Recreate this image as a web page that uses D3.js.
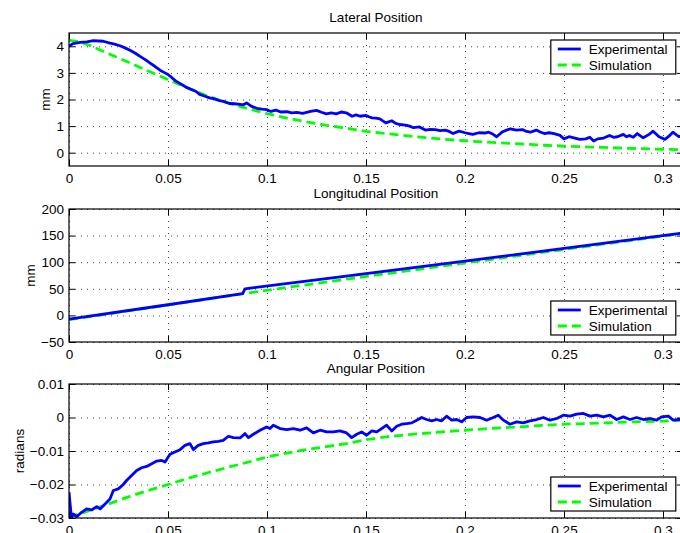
<!DOCTYPE html>
<html>
<head>
<meta charset="utf-8">
<script src="https://cdn.jsdelivr.net/npm/d3@7"></script>
<style>
body { margin: 0; background: #fff; }
svg { display: block; font-family: "Liberation Sans", Arial, Helvetica, sans-serif; font-size: 13.5px; }
.grid line { stroke: #444; stroke-width: 1; stroke-dasharray: 1,5; }
.grid .domain { display: none; }
.ax line { stroke: #000; stroke-width: 1; }
.ax text { fill: #000; font-size: 13.5px; font-family: "Liberation Sans", Arial, sans-serif; }
.box { fill: none; stroke: #000; stroke-width: 1.2; }
.exp { fill: none; stroke: #0000ff; stroke-width: 2.8; stroke-linejoin: round; }
.sim { fill: none; stroke: #00ff00; stroke-width: 2.8; stroke-dasharray: 9,5; }
.legend rect { fill: #fff; stroke: #000; stroke-width: 1.2; }
</style>
</head>
<body>
<div id="chart"></div>
<script>
// x axis (time, s) shared by all three panels
var xTicks = [0, 0.05, 0.1, 0.15, 0.2, 0.25, 0.3];
var xMax   = 0.31;
var seriesNames = ['Experimental', 'Simulation'];

// ---- Lateral position (mm)
var latExpT = [0, 0.002, 0.0056, 0.009, 0.0123, 0.015, 0.0173, 0.0207, 0.023, 0.0257, 0.028, 0.0308,
	0.0335, 0.0359, 0.0385, 0.041, 0.0435, 0.046, 0.048, 0.05, 0.052, 0.054, 0.0565, 0.059, 0.061, 0.0628,
	0.064, 0.066, 0.068, 0.071, 0.0735, 0.076, 0.078, 0.081, 0.0835, 0.0864, 0.088, 0.0897, 0.092, 0.0948,
	0.0975, 0.0998, 0.102, 0.1045, 0.107, 0.11, 0.1125, 0.115, 0.118, 0.122, 0.125, 0.1275, 0.13, 0.1325,
	0.135, 0.1375, 0.14, 0.143, 0.145, 0.147, 0.15, 0.1515, 0.153, 0.155, 0.157, 0.16, 0.163, 0.165, 0.167,
	0.17, 0.172, 0.174, 0.177, 0.18, 0.1825, 0.185, 0.1875, 0.19, 0.192, 0.194, 0.197, 0.2, 0.202, 0.204,
	0.207, 0.21, 0.212, 0.214, 0.216, 0.219, 0.221, 0.223, 0.226, 0.229, 0.231, 0.233, 0.236, 0.238, 0.24,
	0.2425, 0.245, 0.248, 0.25, 0.2525, 0.255, 0.258, 0.261, 0.263, 0.265, 0.267, 0.27, 0.273, 0.275, 0.277,
	0.28, 0.2815, 0.283, 0.285, 0.287, 0.29, 0.293, 0.295, 0.298, 0.301, 0.303, 0.305, 0.308, 0.31];
var latExp = [4.0, 4.1, 4.15, 4.17, 4.21, 4.2, 4.19, 4.12, 4.08, 4.02, 3.95, 3.85,
	3.74, 3.62, 3.5, 3.37, 3.24, 3.1, 3.02, 2.94, 2.82, 2.69, 2.58, 2.47, 2.4, 2.35,
	2.31, 2.19, 2.14, 2.06, 2.02, 1.96, 1.93, 1.85, 1.84, 1.82, 1.8, 1.87, 1.75, 1.67,
	1.64, 1.62, 1.55, 1.6, 1.53, 1.54, 1.5, 1.52, 1.48, 1.55, 1.59, 1.52, 1.46, 1.5,
	1.46, 1.53, 1.5, 1.37, 1.42, 1.37, 1.4, 1.35, 1.31, 1.3, 1.27, 1.12, 1.2, 1.1, 1.06,
	1.04, 1.0, 0.94, 0.97, 0.85, 0.88, 0.87, 0.83, 0.85, 0.8, 0.72, 0.81, 0.75, 0.72, 0.69,
	0.75, 0.74, 0.77, 0.7, 0.6, 0.79, 0.85, 0.9, 0.85, 0.87, 0.8, 0.77, 0.85, 0.78, 0.72,
	0.75, 0.72, 0.65, 0.52, 0.6, 0.56, 0.5, 0.52, 0.58, 0.44, 0.52, 0.55, 0.65, 0.58, 0.6,
	0.69, 0.6, 0.65, 0.58, 0.72, 0.56, 0.69, 0.81, 0.6, 0.5, 0.62, 0.77, 0.6, 0.65];
var latSimT = [0, 0.005, 0.01, 0.02, 0.03, 0.04, 0.05, 0.06, 0.07, 0.08, 0.09, 0.1, 0.11, 0.12, 0.13,
	0.14, 0.15, 0.16, 0.17, 0.18, 0.19, 0.2, 0.21, 0.22, 0.23, 0.24, 0.25, 0.26, 0.27, 0.28, 0.29, 0.3, 0.31];
var latSim = [4.22, 4.18, 4.05, 3.72, 3.4, 3.07, 2.75, 2.43, 2.13, 1.88, 1.66, 1.47, 1.3, 1.16, 1.03,
	0.92, 0.8, 0.72, 0.64, 0.57, 0.5, 0.45, 0.4, 0.36, 0.32, 0.28, 0.25, 0.22, 0.2, 0.17, 0.15, 0.13, 0.11];

// ---- Longitudinal position (mm)
var lonExpT = [0, 0.05, 0.0877, 0.0889, 0.137, 0.2, 0.25, 0.31];
var lonExp  = [-7, 20, 41, 50, 72.5, 102, 126, 155];
var lonSimT = [0, 0.05, 0.088, 0.137, 0.2, 0.25, 0.31];
var lonSim  = [-8, 19.5, 41, 66.5, 98.5, 124, 154];

// ---- Angular position (radians)
var angExpT = [0, 0.0012, 0.0022, 0.0039, 0.0064, 0.0089, 0.0114, 0.014, 0.0157, 0.0182, 0.0207, 0.0224,
	0.0249, 0.0274, 0.0291, 0.0316, 0.0342, 0.0367, 0.0392, 0.0418, 0.0443, 0.0468, 0.0485, 0.051, 0.0535,
	0.0561, 0.0586, 0.0611, 0.0628, 0.0653, 0.0678, 0.0704, 0.0729, 0.0754, 0.0779, 0.0805, 0.083, 0.0864,
	0.0889, 0.0906, 0.0931, 0.0965, 0.0998, 0.1015, 0.1032, 0.1066, 0.11, 0.1133, 0.1167, 0.12, 0.1234,
	0.1268, 0.1301, 0.1335, 0.1369, 0.1402, 0.1428, 0.1453, 0.1478, 0.1503, 0.1529, 0.1554, 0.1579, 0.1604,
	0.163, 0.1655, 0.168, 0.1705, 0.1731, 0.1756, 0.1781, 0.1806, 0.1832, 0.1857, 0.1882, 0.1907, 0.1933,
	0.1958, 0.1983, 0.2008, 0.2042, 0.2076, 0.2109, 0.2143, 0.2168, 0.2194, 0.2227, 0.2261, 0.2294, 0.2328,
	0.2362, 0.2396, 0.2429, 0.2463, 0.2497, 0.253, 0.2564, 0.2598, 0.2631, 0.2665, 0.2699, 0.2732, 0.2766,
	0.28, 0.2833, 0.2867, 0.2901, 0.2934, 0.2968, 0.2993, 0.3027, 0.3052, 0.3086, 0.31];
var angExp = [-0.0223, -0.0298, -0.0288, -0.0296, -0.0283, -0.0273, -0.0276, -0.0266, -0.0273, -0.0258, -0.0243, -0.0218,
	-0.0213, -0.0200, -0.0188, -0.0173, -0.0158, -0.0150, -0.0146, -0.0138, -0.0130, -0.0128, -0.0133, -0.0110, -0.0103,
	-0.0096, -0.0083, -0.0078, -0.0096, -0.0083, -0.0078, -0.0076, -0.0073, -0.0071, -0.0068, -0.0056, -0.0060, -0.0061,
	-0.0048, -0.0060, -0.0050, -0.0038, -0.0028, -0.0033, -0.0023, -0.0033, -0.0036, -0.0033, -0.0038, -0.0031, -0.0046,
	-0.0038, -0.0043, -0.0043, -0.0040, -0.0046, -0.0060, -0.0050, -0.0043, -0.0053, -0.0040, -0.0043, -0.0033, -0.0023,
	-0.0040, -0.0026, -0.0020, -0.0018, -0.0016, -0.0008, 0.0000, -0.0006, -0.0010, -0.0006, -0.0010, 0.0004, -0.0008,
	-0.0006, -0.0013, 0.0000, 0.0002, 0.0000, -0.0008, 0.0000, 0.0007, -0.0008, -0.0020, -0.0013, -0.0016, -0.0010,
	-0.0006, 0.0000, -0.0008, -0.0003, 0.0007, 0.0004, 0.0010, 0.0012, 0.0004, 0.0007, 0.0002, 0.0007, -0.0006,
	0.0002, -0.0006, 0.0000, -0.0006, -0.0003, -0.0008, 0.0002, 0.0004, -0.0008, -0.0006, -0.0004];
var angSimT = [0, 0.01, 0.02, 0.03, 0.04, 0.05, 0.06, 0.07, 0.08, 0.09, 0.1, 0.11, 0.12, 0.13, 0.14, 0.15,
	0.16, 0.17, 0.18, 0.19, 0.2, 0.21, 0.22, 0.23, 0.24, 0.25, 0.26, 0.27, 0.28, 0.29, 0.3, 0.31];
var angSim = [-0.0298, -0.0278, -0.0258, -0.0237, -0.0218, -0.0200, -0.0182, -0.0165, -0.0149, -0.0134, -0.0118,
	-0.0106, -0.0096, -0.0087, -0.0078, -0.0066, -0.0058, -0.0052, -0.0047, -0.0042, -0.0038, -0.0034, -0.0030,
	-0.0027, -0.0023, -0.0020, -0.0018, -0.0016, -0.0014, -0.0012, -0.0011, -0.0008];

var panels = [
	{title: 'Lateral Position', ylabel: 'mm', top: 33, bottom: 166,
	 yDomain: [-0.5, 4.5], yTicks: [0, 1, 2, 3, 4], legend: 'top',
	 exp: {t: latExpT, v: latExp}, sim: {t: latSimT, v: latSim}},
	{title: 'Longitudinal Position', ylabel: 'mm', top: 209, bottom: 342,
	 yDomain: [-50, 200], yTicks: [-50, 0, 50, 100, 150, 200], legend: 'bottom',
	 exp: {t: lonExpT, v: lonExp}, sim: {t: lonSimT, v: lonSim}},
	{title: 'Angular Position', ylabel: 'radians', top: 384, bottom: 518,
	 yDomain: [-0.03, 0.01], yTicks: [-0.03, -0.02, -0.01, 0, 0.01], legend: 'bottom',
	 exp: {t: angExpT, v: angExp}, sim: {t: angSimT, v: angSim}}
];

var width = 680, height = 533;
var left = 69, pxPerSec = 1980;
var tickLen = 6;
var fmt = d3.format('~g');

var svg = d3.select('#chart').append('svg')
	.attr('width', width)
	.attr('height', height);

var xScale = d3.scaleLinear().domain([0, xMax]).range([left, left + xMax * pxPerSec]);
var right = xScale.range()[1];

panels.forEach(function(p, i) {
	var yScale = d3.scaleLinear().domain(p.yDomain).range([p.bottom, p.top]);
	var h = p.bottom - p.top;
	var g = svg.append('g').attr('class', 'panel');

	// dotted grid
	g.append('g').attr('class', 'grid')
		.attr('transform', 'translate(0,' + p.bottom + ')')
		.call(d3.axisBottom(xScale).tickValues(xTicks).tickSize(-h).tickFormat(''));
	g.append('g').attr('class', 'grid')
		.attr('transform', 'translate(' + left + ',0)')
		.call(d3.axisLeft(yScale).tickValues(p.yTicks).tickSize(-(right - left)).tickFormat(''));

	// data lines, clipped to the axes
	g.append('clipPath').attr('id', 'clip' + i)
		.append('rect')
		.attr('x', left).attr('y', p.top)
		.attr('width', right - left).attr('height', h);

	var line = d3.line()
		.x(function(d) { return xScale(d[0]); })
		.y(function(d) { return yScale(d[1]); });

	var lines = g.append('g').attr('clip-path', 'url(#clip' + i + ')');
	lines.append('path').attr('class', 'sim')
		.attr('d', line(d3.zip(p.sim.t, p.sim.v)));
	lines.append('path').attr('class', 'exp')
		.attr('d', line(d3.zip(p.exp.t, p.exp.v)));

	// axes box with inward ticks
	var xb = g.append('g').attr('class', 'ax')
		.attr('transform', 'translate(0,' + p.bottom + ')')
		.call(d3.axisBottom(xScale).tickValues(xTicks).tickSize(-tickLen).tickPadding(7.5).tickFormat(fmt));
	g.append('g').attr('class', 'ax')
		.attr('transform', 'translate(0,' + p.top + ')')
		.call(d3.axisTop(xScale).tickValues(xTicks).tickSize(-tickLen).tickFormat(''));
	var yl = g.append('g').attr('class', 'ax')
		.attr('transform', 'translate(' + left + ',0)')
		.call(d3.axisLeft(yScale).tickValues(p.yTicks).tickSize(-tickLen).tickPadding(5).tickFormat(fmt));
	g.append('g').attr('class', 'ax')
		.attr('transform', 'translate(' + right + ',0)')
		.call(d3.axisRight(yScale).tickValues(p.yTicks).tickSize(-tickLen).tickFormat(''));
	g.selectAll('.ax .domain').remove();

	g.append('rect').attr('class', 'box')
		.attr('x', left).attr('y', p.top)
		.attr('width', right - left).attr('height', h);

	// title
	g.append('text')
		.attr('x', (left + right) / 2)
		.attr('y', p.top - 11)
		.attr('text-anchor', 'middle')
		.text(p.title);

	// y label, placed left of the widest tick label
	var maxW = 0;
	yl.selectAll('text').each(function() { maxW = Math.max(maxW, this.getBBox().width); });
	var lx = left - 5 - maxW - 6;
	g.append('text')
		.attr('transform', 'translate(' + lx + ',' + (p.top + h / 2) + ') rotate(-90)')
		.attr('text-anchor', 'middle')
		.text(p.ylabel);

	// legend
	var lw = 125, lh = 34;
	var lxPos = right - 7 - lw;
	var lyPos = p.legend === 'top' ? p.top + 7 : p.bottom - 7 - lh;
	var leg = g.append('g').attr('class', 'legend')
		.attr('transform', 'translate(' + lxPos + ',' + lyPos + ')');
	leg.append('rect').attr('width', lw).attr('height', lh);
	var item = leg.selectAll('g.item')
		.data(seriesNames)
		.enter().append('g')
		.attr('class', 'item')
		.attr('transform', function(d, j) { return 'translate(0,' + (9 + j * 16) + ')'; });
	item.append('line')
		.attr('class', function(d, j) { return j === 0 ? 'exp' : 'sim'; })
		.attr('x1', 7).attr('x2', 30);
	item.append('text')
		.attr('x', 38)
		.attr('y', 4.8)
		.text(function(d) { return d; });
});
</script>
</body>
</html>
